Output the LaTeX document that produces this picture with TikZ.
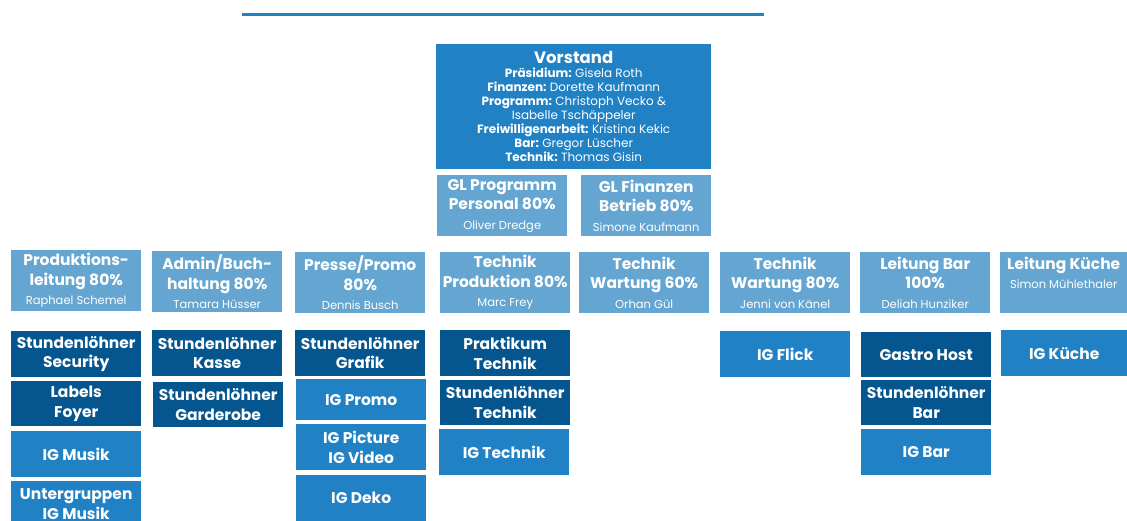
\documentclass[tikz,border=0pt]{standalone}
\usepackage{fontspec}
\setmainfont{Poppins}
\definecolor{leadblue}{HTML}{64A6D1}
\definecolor{grpblue}{HTML}{2181C5}
\definecolor{poolblue}{HTML}{05558F}
\newcommand{\nm}[1]{{\mdseries #1}}
\newcommand{\who}[1]{\\{\mdseries\fontsize{11.5}{13}\selectfont #1}}
\tikzset{
  box/.style={anchor=north west, inner sep=0pt, minimum width=130pt, align=center,
    text=white, font=\bfseries\fontsize{15.5}{19.5}\selectfont},
  lead/.style={box, fill=leadblue, minimum height=61pt},
  grp/.style={box, fill=grpblue},
  pool/.style={box, fill=poolblue}
}
\begin{document}
\begin{tikzpicture}[x=1pt,y=-1pt]
\useasboundingbox (0,0) rectangle (1127,520);
\coordinate (rule-l) at (242,14);
\coordinate (rule-r) at (764,14);
\draw[grpblue, line width=3pt] (rule-l) -- (rule-r);
\node[grp, minimum width=275pt, minimum height=125pt, font=\bfseries\fontsize{12}{14}\selectfont] (vorstand) at (436,44)
  {{\fontsize{16.5}{18}\selectfont Vorstand}\\
   Präsidium: \nm{Gisela Roth}\\
   Finanzen: \nm{Dorette Kaufmann}\\
   Programm: \nm{Christoph Vecko \&}\\
   \nm{Isabelle Tschäppeler}\\
   Freiwilligenarbeit: \nm{Kristina Kekic}\\
   Bar: \nm{Gregor Lüscher}\\
   Technik: \nm{Thomas Gisin}};
\node[lead] (glprog) at (437,175) {GL Programm\\Personal 80\%\who{Oliver Dredge}};
\node[lead] (glfin) at (581,175) {GL Finanzen\\Betrieb 80\%\who{Simone Kaufmann}};
\node[lead] (prod) at (11,250) {Produktions-\\leitung 80\%\who{Raphael Schemel}};
\node[lead] (admin) at (152,251) {Admin/Buch-\\haltung 80\%\who{Tamara Hüsser}};
\node[lead] (presse) at (295,252) {Presse/Promo\\80\%\who{Dennis Busch}};
\node[lead] (techprod) at (440,252) {Technik\\Produktion 80\%\who{Marc Frey}};
\node[lead] (wart60) at (579,252) {Technik\\Wartung 60\%\who{Orhan Gül}};
\node[lead] (wart80) at (720,252) {Technik\\Wartung 80\%\who{Jenni von Känel}};
\node[lead] (bar) at (860,252) {Leitung Bar\\100\%\who{Deliah Hunziker}};
\node[lead, minimum width=127pt] (kueche) at (1000,252) {Leitung Küche\who{Simon Mühlethaler}\\\mbox{}};
\node[pool, minimum height=46pt] (security) at (11,331) {Stundenlöhner\\Security};
\node[pool, minimum height=45pt] (foyer) at (11,381) {Labels\\Foyer};
\node[grp, minimum height=46pt] (igmusik) at (11,431) {IG Musik};
\node[grp, minimum height=46pt] (untergr) at (11,481) {Untergruppen\\IG Musik};
\node[pool, minimum height=46pt] (kasse) at (152,330) {Stundenlöhner\\Kasse};
\node[pool, minimum height=45pt] (garderobe) at (153,382) {Stundenlöhner\\Garderobe};
\node[pool, minimum height=46pt] (grafik) at (295,330) {Stundenlöhner\\Grafik};
\node[grp, minimum height=41pt] (igpromo) at (296,379) {IG Promo};
\node[grp, minimum height=46pt] (igpicture) at (296,424) {IG Picture\\IG Video};
\node[grp, minimum height=46pt] (igdeko) at (296,475) {IG Deko};
\node[pool, minimum height=46pt] (praktikum) at (440,330) {Praktikum\\Technik};
\node[pool, minimum height=45pt] (stdtechnik) at (440,380) {Stundenlöhner\\Technik};
\node[grp, minimum height=46pt] (igtechnik) at (439,429) {IG Technik};
\node[grp, minimum height=46pt] (igflick) at (720,331) {IG Flick};
\node[pool, minimum height=45pt] (gastro) at (861,332) {Gastro Host};
\node[pool, minimum height=45pt] (stdbar) at (861,380) {Stundenlöhner\\Bar};
\node[grp, minimum height=46pt] (igbar) at (861,429) {IG Bar};
\node[grp, minimum width=126pt, minimum height=46pt] (igkueche) at (1001,330) {IG Küche};
\end{tikzpicture}
\end{document}
